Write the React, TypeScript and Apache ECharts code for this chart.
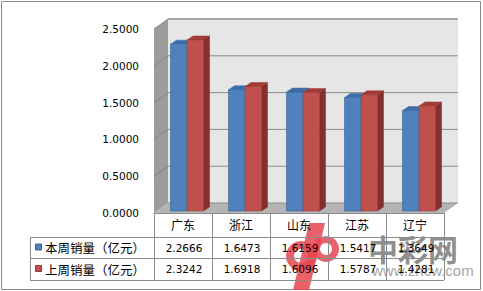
import React, { useEffect, useRef } from "react";
import * as echarts from "echarts";

// Weekly lottery sales by province (100 million yuan)
const categories = ["广东", "浙江", "山东", "江苏", "辽宁"];
const seriesNames = ["本周销量（亿元）", "上周销量（亿元）"];
const thisWeek = [2.2666, 1.6473, 1.6159, 1.5417, 1.3649];
const lastWeek = [2.3242, 1.6918, 1.6096, 1.5787, 1.4281];
const yTicks = [0, 0.5, 1, 1.5, 2, 2.5];

const WALL_DX = 14;
const WALL_DY = -10;
const BAR_OFF_X = 4;
const BAR_OFF_Y = -2;
const BAR_DX = 6;
const BAR_DY = -4;

const palette = [
  { front: "#4F81BD", top: "#3E6DA8", side: "#2F5A8E", edge: "#3A659A" },
  { front: "#C0504D", top: "#A13B38", side: "#85302E", edge: "#9C3C39" },
];

const NUM_FONT = "DejaVu Sans";
const CJK_FONT = "Noto Sans CJK SC";

function wallsRender(params: any, api: any) {
  const cs = params.coordSys;
  const x0 = cs.x;
  const x1 = cs.x + cs.width;
  const yT = cs.y;
  const yB = cs.y + cs.height;
  const children: any[] = [
    {
      type: "polygon",
      shape: { points: [[x0, yT], [x0 + WALL_DX, yT + WALL_DY], [x0 + WALL_DX, yB + WALL_DY], [x0, yB]] },
      style: { fill: "#9C9C9C" },
    },
    {
      type: "rect",
      shape: { x: x0 + WALL_DX, y: yT + WALL_DY, width: x1 - x0, height: yB - yT },
      style: { fill: "#E6E6E6" },
    },
    {
      type: "polygon",
      shape: { points: [[x0, yB], [x1, yB], [x1 + WALL_DX, yB + WALL_DY], [x0 + WALL_DX, yB + WALL_DY]] },
      style: { fill: "#B4B4B4" },
    },
  ];
  yTicks.forEach((t) => {
    const y = api.coord([0, t])[1];
    const isTop = t === yTicks[yTicks.length - 1];
    children.push({
      type: "line",
      shape: { x1: x0 + WALL_DX, y1: y + WALL_DY, x2: x1 + WALL_DX, y2: y + WALL_DY },
      style: { stroke: isTop ? "#A6A6A6" : "#8C8C8C", lineWidth: isTop ? 2 : 1 },
    });
    if (t !== 0) {
      children.push({
        type: "line",
        shape: { x1: x0, y1: y, x2: x0 + WALL_DX, y2: y + WALL_DY },
        style: { stroke: "#858585", lineWidth: 1 },
      });
    }
  });
  return { type: "group", children };
}

function makeBarRender(s: number) {
  return (params: any, api: any) => {
    const idx = api.value(0);
    const val = api.value(1);
    const [cx, yv] = api.coord([idx, val]);
    const y0 = api.coord([idx, 0])[1];
    const band = api.size([1, 0])[0];
    const bw = band * 0.285;
    const fx0 = cx + BAR_OFF_X + (s === 0 ? -bw : 0);
    const fx1 = fx0 + bw;
    const yT = yv + BAR_OFF_Y;
    const yB = y0 + BAR_OFF_Y;
    const c = palette[s];
    return {
      type: "group",
      children: [
        {
          type: "polygon",
          shape: { points: [[fx1, yT], [fx1 + BAR_DX, yT + BAR_DY], [fx1 + BAR_DX, yB + BAR_DY], [fx1, yB]] },
          style: { fill: c.side, stroke: c.side, lineWidth: 0.5 },
        },
        {
          type: "polygon",
          shape: { points: [[fx0, yT], [fx1, yT], [fx1 + BAR_DX, yT + BAR_DY], [fx0 + BAR_DX, yT + BAR_DY]] },
          style: { fill: c.top, stroke: c.top, lineWidth: 0.5 },
        },
        {
          type: "rect",
          shape: { x: fx0, y: yT, width: bw, height: yB - yT },
          style: { fill: c.front, stroke: c.edge, lineWidth: 0.6 },
        },
      ],
    };
  };
}

const TABLE_LEFT = 30;
const ROW_LINES = [24, 45, 67];

function tableRender(params: any, api: any) {
  const cs = params.coordSys;
  const idx = api.value(0);
  const cx = api.coord([idx, 0])[0];
  const yB = cs.y + cs.height;
  const x1 = cs.x + cs.width;
  const rows = [thisWeek, lastWeek];
  const children: any[] = [];
  rows.forEach((vals, r) => {
    children.push({
      type: "text",
      x: cx + 1,
      y: yB + (ROW_LINES[r] + ROW_LINES[r + 1]) / 2,
      style: {
        text: vals[idx].toFixed(4),
        fill: "#000000",
        font: `10.5px "${NUM_FONT}"`,
        textAlign: "center",
        textVerticalAlign: "middle",
      },
    });
  });
  if (idx === 0) {
    ROW_LINES.forEach((dy) => {
      children.push({
        type: "line",
        shape: { x1: TABLE_LEFT, y1: yB + dy + 0.5, x2: x1, y2: yB + dy + 0.5 },
        style: { stroke: "#8C8C8C", lineWidth: 1 },
      });
    });
    children.push({
      type: "line",
      shape: { x1: TABLE_LEFT + 0.5, y1: yB + ROW_LINES[0], x2: TABLE_LEFT + 0.5, y2: yB + ROW_LINES[2] },
      style: { stroke: "#8C8C8C", lineWidth: 1 },
    });
    seriesNames.forEach((name, r) => {
      const cy = yB + (ROW_LINES[r] + ROW_LINES[r + 1]) / 2;
      children.push({
        type: "rect",
        shape: { x: TABLE_LEFT + 5.5, y: cy - 3.5, width: 6, height: 6 },
        style: { fill: palette[r].front, stroke: palette[r].edge, lineWidth: 1 },
      });
      children.push({
        type: "text",
        x: TABLE_LEFT + 15,
        y: cy,
        style: {
          text: name,
          fill: "#000000",
          font: `12.5px "${CJK_FONT}"`,
          textAlign: "left",
          textVerticalAlign: "middle",
        },
      });
    });
  }
  return { type: "group", children };
}

export default function App() {
  const ref = useRef<HTMLDivElement>(null);

  useEffect(() => {
    if (!ref.current) return;
    const chart = echarts.init(ref.current, null, { renderer: "svg" });
    chart.setOption({
      animation: false,
      backgroundColor: "#FFFFFF",
      grid: { left: 154, right: 39, top: 29, bottom: 78, containLabel: false },
      xAxis: {
        type: "category",
        data: categories,
        boundaryGap: true,
        axisLine: { show: true, lineStyle: { color: "#8C8C8C", width: 1 } },
        axisTick: { show: true, length: 67, lineStyle: { color: "#8C8C8C", width: 1 } },
        axisLabel: { color: "#000000", fontSize: 12, fontFamily: CJK_FONT, margin: 5 },
        splitLine: { show: false },
      },
      yAxis: {
        type: "value",
        min: 0,
        max: 2.5,
        interval: 0.5,
        axisLine: { show: false },
        axisTick: { show: false },
        splitLine: { show: false },
        axisLabel: {
          color: "#000000",
          fontSize: 10.5,
          fontFamily: NUM_FONT,
          margin: 15,
          padding: [5, 0, 0, 0],
          formatter: (v: number) => v.toFixed(4),
        },
      },
      series: [
        {
          type: "custom",
          name: "walls",
          z: 1,
          silent: true,
          renderItem: wallsRender,
          data: [[0, 0]],
          encode: { x: 0, y: 1 },
        },
        {
          type: "custom",
          name: seriesNames[0],
          z: 2,
          renderItem: makeBarRender(0),
          data: thisWeek.map((v, i) => [i, v]),
          encode: { x: 0, y: 1 },
        },
        {
          type: "custom",
          name: seriesNames[1],
          z: 3,
          renderItem: makeBarRender(1),
          data: lastWeek.map((v, i) => [i, v]),
          encode: { x: 0, y: 1 },
        },
        {
          type: "custom",
          name: "table",
          z: 4,
          silent: true,
          renderItem: tableRender,
          data: categories.map((_, i) => [i, 0]),
          encode: { x: 0, y: 1 },
        },
      ],
      graphic: [
        {
          type: "rect",
          z: -10,
          shape: { x: 1.5, y: 1.5, width: 479, height: 288 },
          style: { fill: "none", stroke: "#8A8A8A", lineWidth: 1 },
        },
        // site watermark
        {
          type: "group",
          z: 100,
          silent: true,
          children: [
            {
              type: "polygon",
              shape: { points: [[309, 223], [325, 223], [309, 290], [293, 290]] },
              style: { fill: "#E8454F", opacity: 0.85 },
            },
            {
              type: "ring",
              shape: { cx: 301, cy: 256, r: 15, r0: 7 },
              style: { fill: "#E8454F", opacity: 0.85 },
            },
            {
              type: "ring",
              shape: { cx: 326, cy: 249, r: 13, r0: 6 },
              style: { fill: "#E8454F", opacity: 0.85 },
            },
            {
              type: "text",
              x: 368,
              y: 233,
              style: {
                text: "中彩网",
                fill: "#707070",
                opacity: 0.8,
                font: `bold 30px "${CJK_FONT}"`,
                textAlign: "left",
                textVerticalAlign: "top",
              },
            },
            {
              type: "text",
              x: 372,
              y: 263,
              style: {
                text: "www.zhcw.com",
                fill: "#8C8C8C",
                opacity: 0.8,
                font: `15px "Liberation Sans"`,
                textAlign: "left",
                textVerticalAlign: "top",
              },
            },
          ],
        },
      ],
    });
    return () => chart.dispose();
  }, []);

  return (
    <div
      ref={ref}
      style={{ position: "fixed", left: 0, top: 0, width: 483, height: 291 }}
    />
  );
}
